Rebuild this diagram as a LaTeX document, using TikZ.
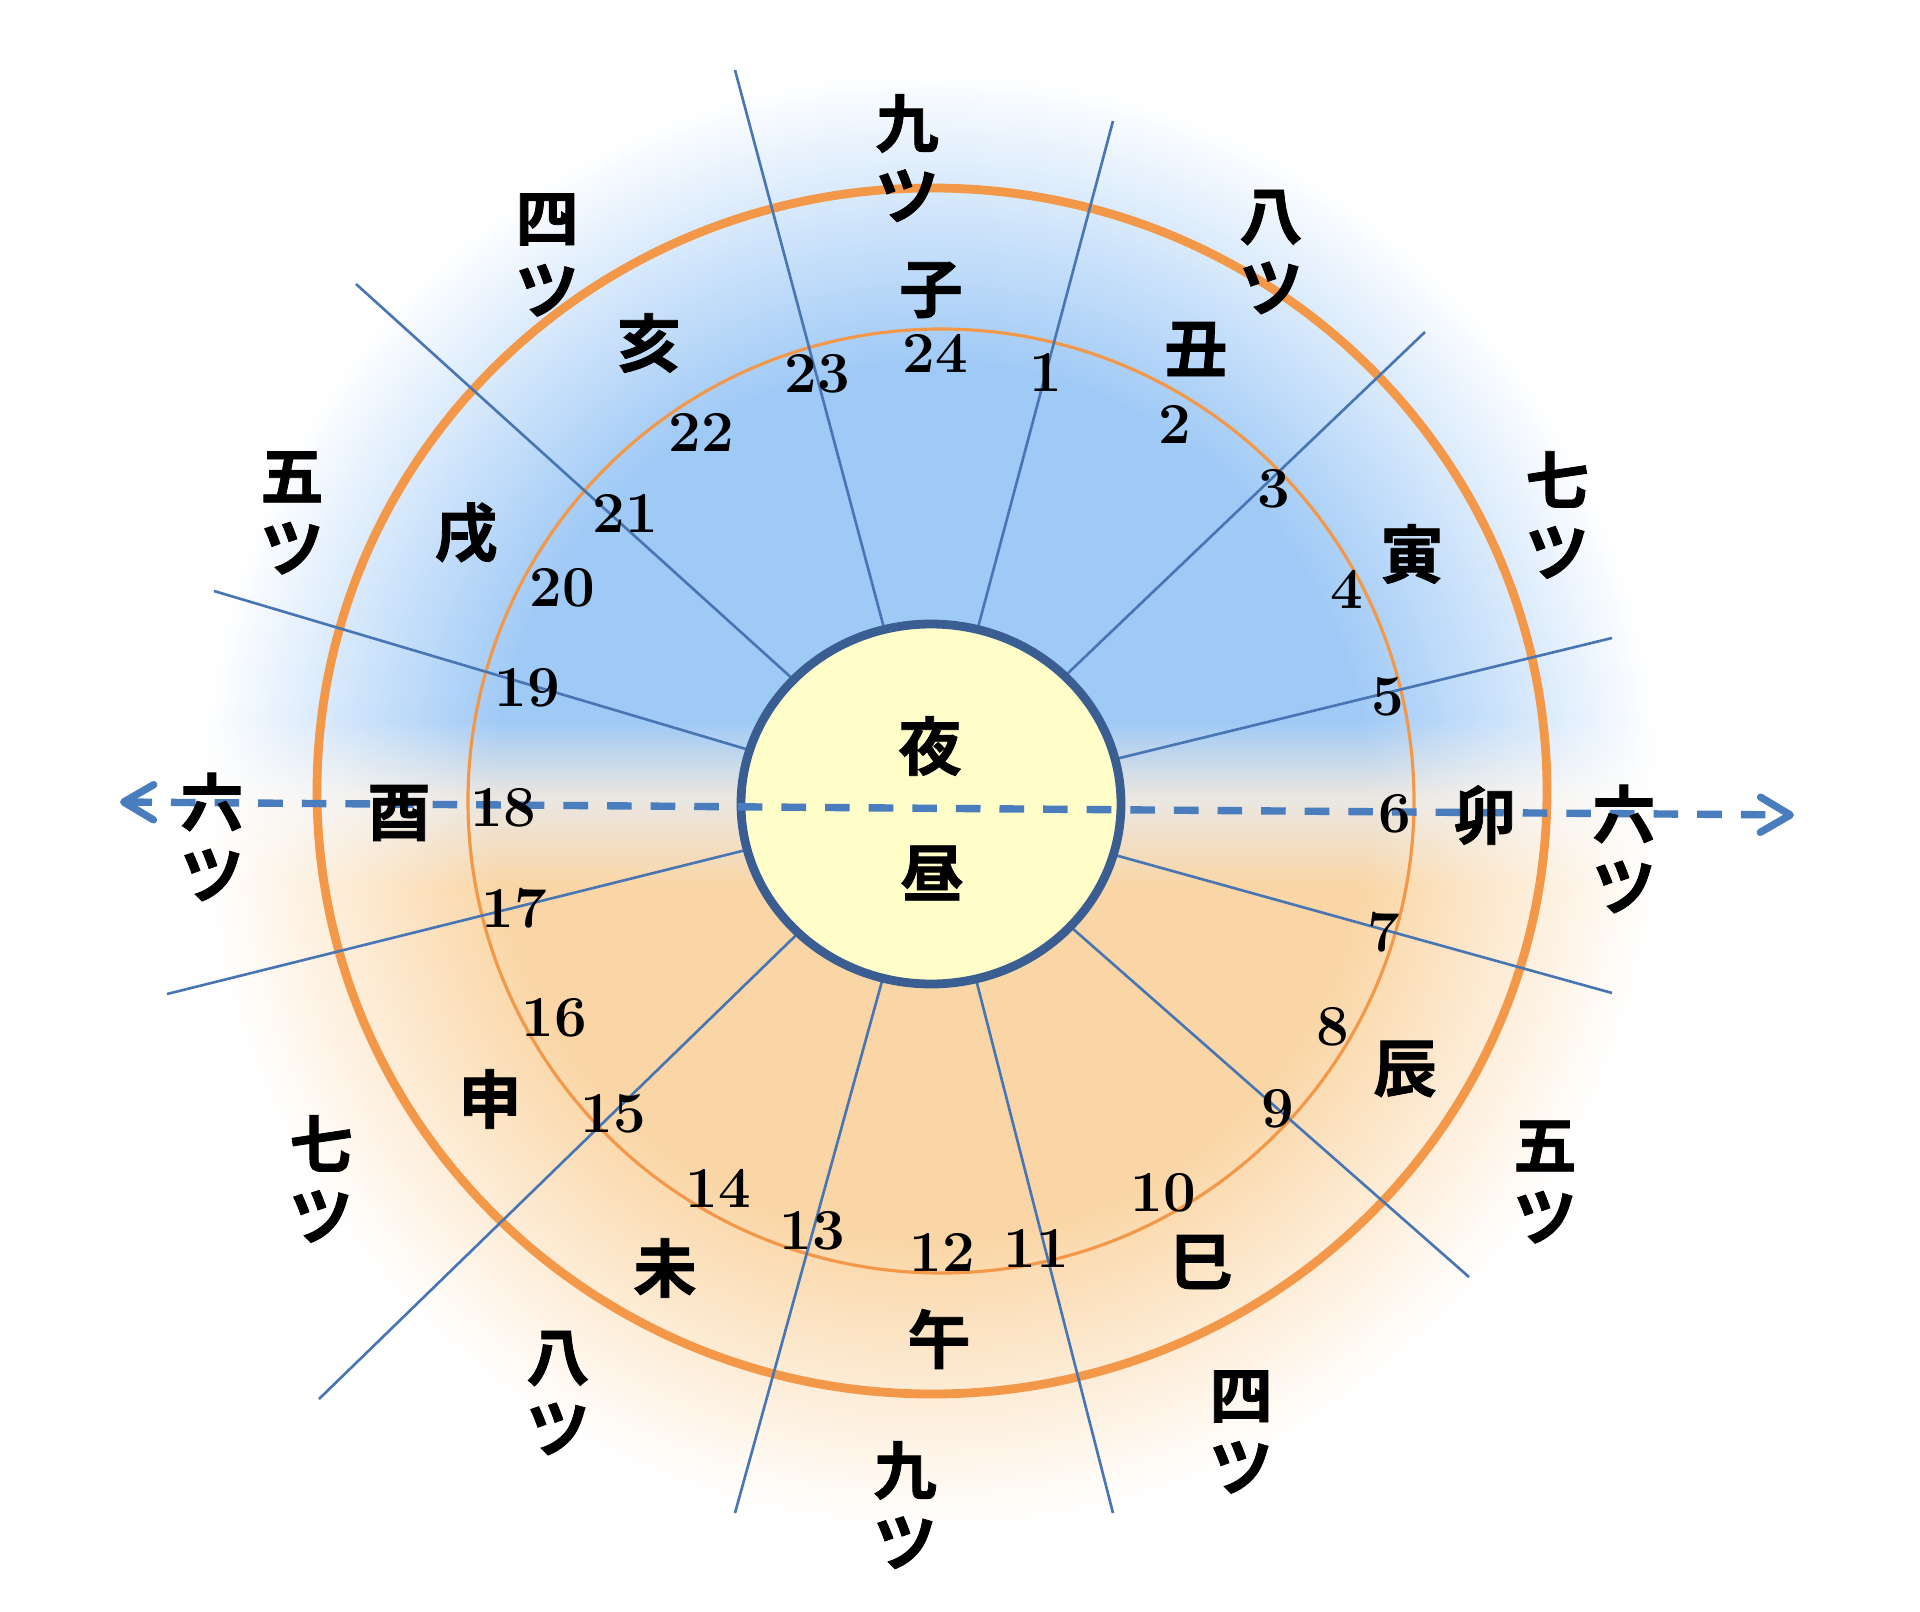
\documentclass[tikz,border=0pt]{standalone}
\usepackage{fontspec}
\newfontfamily\jp{Noto Sans CJK JP Bold}[FakeBold=1.2]
\usetikzlibrary{arrows.meta}

\definecolor{skyc}{RGB}{160,202,246}
\definecolor{midc}{RGB}{234,230,224}
\definecolor{peachc}{RGB}{250,214,166}
\definecolor{ringc}{RGB}{243,152,72}
\definecolor{discc}{RGB}{255,253,200}
\definecolor{rimc}{RGB}{58,94,145}
\definecolor{spokec}{RGB}{72,118,180}
\definecolor{dashc}{RGB}{74,125,190}
\colorlet{glowc}{skyc}
\pgfdeclareradialshading[glowc]{glow}{\pgfpointorigin}{color(0bp)=(glowc); color(15bp)=(glowc); color(25bp)=(white); color(50bp)=(white)}

\tikzset{
  kanji/.style={font=\jp\fontsize{18pt}{20.4pt}\selectfont, inner sep=0pt},
  bell/.style={kanji, align=center},
  hour/.style={font=\bfseries\fontsize{16.5pt}{18pt}\selectfont, inner sep=0pt},
  spoke/.style={spokec, line width=0.75pt}
}

\begin{document}
\begin{tikzpicture}[x=0.01cm,y=-0.01cm]
			%%%%% START %%%%%
			\useasboundingbox (0,0) rectangle (1920,1612);
			\coordinate (hub) at (931,804);
			
			% night above, day below
			\begin{scope}
				\clip (0,0) rectangle (1920,722);
				\shade[shading=glow] (931,800) circle (730);
			\end{scope}
			\foreach \k in {0,...,15}{
				\pgfmathtruncatemacro{\ya}{720+5*\k}
				\pgfmathtruncatemacro{\pc}{100-100*\k/15}
				\colorlet{glowc}{skyc!\pc!midc}
				\begin{scope}
					\clip (0,\ya) rectangle (1920,\ya+6);
					\shade[shading=glow] (931,800) circle (730);
				\end{scope}
			}
			\foreach \k in {0,...,17}{
				\pgfmathtruncatemacro{\ya}{800+5*\k}
				\pgfmathtruncatemacro{\pc}{100-100*\k/17}
				\colorlet{glowc}{midc!\pc!peachc}
				\begin{scope}
					\clip (0,\ya) rectangle (1920,\ya+6);
					\shade[shading=glow] (931,800) circle (730);
				\end{scope}
			}
			\begin{scope}
				\colorlet{glowc}{peachc}
				\clip (0,888) rectangle (1920,1612);
				\shade[shading=glow] (931,800) circle (730);
			\end{scope}
			
			\draw[ringc, line width=2.5pt] (932,791) ellipse (615 and 603);
			\draw[ringc, line width=0.9pt] (941,801) ellipse (473 and 472);
			
			\draw[spoke] (hub) -- (735,70);
			\draw[spoke] (hub) -- (1113,121);
			\draw[spoke] (hub) -- (1425,332);
			\draw[spoke] (hub) -- (1612,638);
			\draw[spoke] (hub) -- (1612,993);
			\draw[spoke] (hub) -- (1469,1277);
			\draw[spoke] (hub) -- (1113,1513);
			\draw[spoke] (hub) -- (735,1513);
			\draw[spoke] (hub) -- (319,1399);
			\draw[spoke] (hub) -- (167,994);
			\draw[spoke] (hub) -- (214,591);
			\draw[spoke] (hub) -- (356,284);
			
			\filldraw[fill=discc, draw=rimc, line width=2.5pt] (hub) ellipse (190 and 180);
			
			\coordinate (west end) at (120,802);
			\coordinate (east end) at (1794,815);
			\draw[dashc, line width=2.1pt, dash pattern=on 7pt off 5.4pt, {Straight Barb[length=8.5pt,width=10pt,round]}-{Straight Barb[length=8.5pt,width=10pt,round]}] (west end) -- (east end);
			
			\node[kanji] (yoru) at (930,746) {夜};
			\node[kanji] (hiru) at (932,873) {昼};
			
			\node[kanji] (ne) at (931,290) {子};
			\node[kanji] (ushi) at (1196,349) {丑};
			\node[kanji] (tora) at (1412,554) {寅};
			\node[kanji] (u) at (1485,815) {卯};
			\node[kanji] (tatsu) at (1405,1069) {辰};
			\node[kanji] (mi) at (1201,1262) {巳};
			\node[kanji] (uma) at (939,1339) {午};
			\node[kanji] (hitsuji) at (665,1268) {未};
			\node[kanji] (saru) at (490,1099) {申};
			\node[kanji] (tori) at (399,813) {酉};
			\node[kanji] (inu) at (466,533) {戌};
			\node[kanji] (i) at (649,343) {亥};
			
			\node[bell] (mid9) at (907,158) {九\\ツ};
			\node[bell] (nite8) at (1271,252) {八\\ツ};
			\node[bell] (nite7) at (1557,515) {七\\ツ};
			\node[bell] (dawn6) at (1624,849) {六\\ツ};
			\node[bell] (morn5) at (1545,1182) {五\\ツ};
			\node[bell] (morn4) at (1241,1432) {四\\ツ};
			\node[bell] (noon9) at (905,1505) {九\\ツ};
			\node[bell] (aft8) at (558,1393) {八\\ツ};
			\node[bell] (aft7) at (321,1179) {七\\ツ};
			\node[bell] (dusk6) at (212,837) {六\\ツ};
			\node[bell] (eve5) at (292,513) {五\\ツ};
			\node[bell] (eve4) at (547,255) {四\\ツ};
			
			\node[hour] (h1) at (1046,372) {1};
			\node[hour] (h2) at (1175,424) {2};
			\node[hour] (h3) at (1274,489) {3};
			\node[hour] (h4) at (1347,589) {4};
			\node[hour] (h5) at (1388,697) {5};
			\node[hour] (h6) at (1395,814) {6};
			\node[hour] (h7) at (1384,932) {7};
			\node[hour] (h8) at (1333,1027) {8};
			\node[hour] (h9) at (1278,1109) {9};
			\node[hour] (h10) at (1163,1193) {10};
			\node[hour] (h11) at (1036,1248) {11};
			\node[hour] (h12) at (942,1252) {12};
			\node[hour] (h13) at (812,1231) {13};
			\node[hour] (h14) at (718,1188) {14};
			\node[hour] (h15) at (613,1114) {15};
			\node[hour] (h16) at (554,1018) {16};
			\node[hour] (h17) at (514,908) {17};
			\node[hour] (h18) at (503,808) {18};
			\node[hour] (h19) at (527,688) {19};
			\node[hour] (h20) at (562,588) {20};
			\node[hour] (h21) at (625,513) {21};
			\node[hour] (h22) at (701,432) {22};
			\node[hour] (h23) at (817,374) {23};
			\node[hour] (h24) at (935,353) {24};
			
			%%%%% END %%%%%
\end{tikzpicture}
\end{document}
